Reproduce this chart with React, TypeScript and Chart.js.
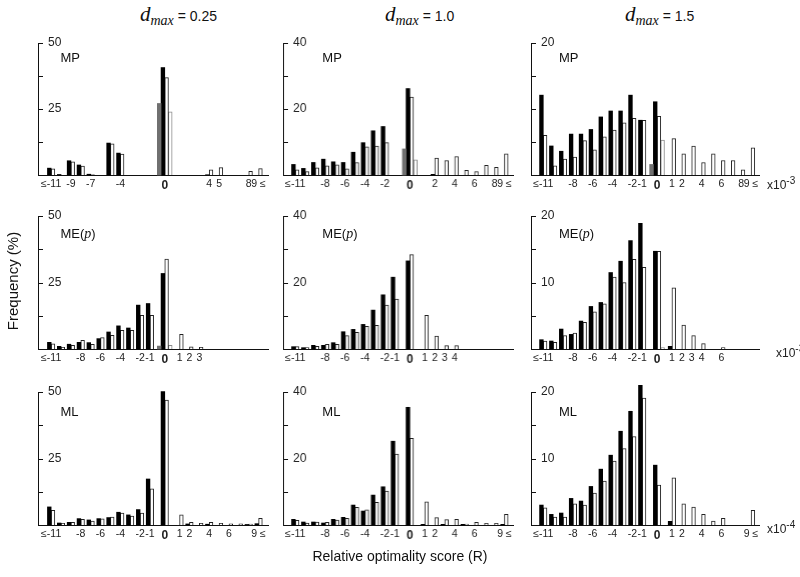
import React, { useEffect, useRef } from 'react';
import { Chart, registerables } from 'chart.js';
Chart.register(...registerables);

const FONT = 'Helvetica, Arial, "Liberation Sans", sans-serif';

// score categories: -11 means "≤-11", 9 means "9 ≤"
const scores = [-11, -10, -9, -8, -7, -6, -5, -4, -3, -2, -1, 0, 1, 2, 3, 4, 5, 6, 7, 8, 9];

// ---- MP ----
const mp025Black = [2.6, 0.2, 5.4, 3.8, 0.3, 0, 12.1, 8.3, 0, 0, 0, 40.7, 0, 0, 0, 0.1, 0, 0, 0, 0, 0];
const mp025White = [2.3, 0, 5.0, 3.4, 0.2, 0, 11.8, 7.9, 0, 0, 0, 36.9, 0, 0, 0, 2.0, 2.8, 0, 0, 1.4, 2.4];
const mp025Zero = [27.1, 23.9]; // grey bar and light bar beside 0
const mp10Black = [3.2, 2.0, 3.8, 4.8, 4.0, 3.8, 6.9, 9.8, 13.4, 14.7, 0, 26.2, 0, 0.2, 0, 0, 0, 0, 0, 0, 0];
const mp10White = [1.6, 1.0, 2.2, 2.8, 3.1, 1.9, 3.8, 8.5, 8.8, 9.8, 0, 23.6, 0, 5.1, 4.4, 5.6, 1.4, 1.0, 2.9, 2.3, 6.4];
const mp10Zero = [7.9, 4.6];
const mp15Black = [12.1, 4.4, 3.6, 6.2, 6.2, 6.9, 8.8, 9.7, 9.7, 12.1, 8.3, 11.1, 0, 0, 0, 0, 0, 0, 0, 0, 0];
const mp15White = [6.0, 1.4, 2.4, 2.7, 5.2, 3.8, 5.8, 6.8, 7.9, 8.6, 8.3, 8.9, 5.5, 3.2, 4.4, 1.9, 3.2, 2.2, 2.2, 0.8, 4.1];
const mp15Zero = [1.6, 5.3];

// ---- ME(p) ----
const me025Black = [2.5, 1.0, 1.8, 2.5, 2.4, 3.9, 6.4, 8.7, 7.9, 16.5, 17.1, 28.4, 0, 0, 0, 0, 0, 0, 0, 0, 0];
const me025White = [1.9, 0.6, 1.4, 3.3, 1.8, 4.3, 5.1, 7.0, 7.0, 12.7, 12.7, 33.8, 5.5, 0.8, 0.6, 0, 0, 0, 0, 0, 0];
const me025Zero = [1.1, 1.4];
const me10Black = [0.7, 0.4, 1.1, 1.1, 1.9, 5.2, 5.9, 7.4, 11.7, 16.3, 21.6, 26.5, 0, 0, 0, 0, 0, 0, 0, 0, 0];
const me10White = [0.7, 0.4, 0.8, 1.4, 1.4, 4.0, 5.0, 6.8, 7.1, 13.2, 15.0, 28.4, 10.1, 3.9, 1.0, 1.0, 0, 0, 0, 0, 0];
const me10Zero = [0, 0];
const me15Black = [1.4, 1.2, 3.0, 2.2, 4.2, 6.4, 7.0, 11.5, 13.2, 16.3, 18.9, 14.7, 0.4, 0, 0, 0, 0, 0, 0, 0, 0];
const me15White = [1.2, 1.0, 2.0, 2.4, 4.0, 5.6, 6.8, 10.8, 10.0, 13.5, 12.3, 14.7, 9.2, 3.6, 2.0, 0.8, 0, 0.2, 0, 0, 0];
const me15Zero = [0, 0.2];

// ---- ML ----
const ml025Black = [6.8, 0.75, 1.0, 2.4, 1.9, 2.4, 2.8, 4.8, 3.8, 5.8, 17.3, 50.2, 0, 0.4, 0, 0.3, 0, 0, 0, 0.2, 0.5];
const ml025White = [5.5, 0.6, 1.0, 2.1, 1.5, 2.3, 3.0, 4.5, 3.4, 4.5, 13.6, 47.0, 3.8, 1.0, 0.6, 1.0, 0.6, 0.4, 0.4, 0.3, 2.5];
const ml025Zero = [0, 0];
const ml10Black = [1.7, 0.9, 0.9, 0.6, 1.7, 2.3, 6.0, 4.2, 9.0, 11.5, 25.2, 35.4, 0.2, 0, 0.2, 0, 0.2, 0, 0, 0, 0.2];
const ml10White = [1.4, 0.6, 0.9, 0.8, 1.5, 2.0, 5.3, 4.6, 6.8, 10.2, 21.3, 26.1, 7.0, 2.2, 1.6, 1.7, 0.3, 0.8, 0.5, 0.5, 3.2];
const ml10Zero = [0, 0];
const ml15Black = [3.0, 1.6, 1.8, 4.0, 3.6, 5.8, 8.4, 10.5, 14.1, 17.1, 21.0, 9.0, 0.55, 0, 0, 0, 0, 0, 0, 0, 0];
const ml15White = [2.6, 1.2, 1.2, 3.2, 3.0, 4.8, 6.6, 9.6, 11.5, 13.3, 19.1, 6.0, 7.1, 3.2, 2.7, 1.6, 0.6, 1.0, 0, 0, 2.2];
const ml15Zero = [0, 0];

// tick labels
const ticksMp025 = ['≤-11', '-9', '-7', '-4', '0', '4', '5', '8', '9 ≤'];
const ticksMp10 = ['≤-11', '-8', '-6', '-4', '-2', '0', '2', '4', '6', '8', '9 ≤'];
const ticksMp15 = ['≤-11', '-8', '-6', '-4', '-2', '-1', '0', '1', '2', '4', '6', '8', '9 ≤'];
const ticksMe025 = ['≤-11', '-8', '-6', '-4', '-2', '-1', '0', '1', '2', '3'];
const ticksMe10 = ['≤-11', '-8', '-6', '-4', '-2', '-1', '0', '1', '2', '3', '4'];
const ticksMe15 = ['≤-11', '-8', '-6', '-4', '-2', '-1', '0', '1', '2', '3', '4', '6'];
const ticksMl = ['≤-11', '-8', '-6', '-4', '-2', '-1', '0', '1', '2', '4', '6', '9 ≤'];

const colMax = [50, 40, 20];
const colTitles = ['0.25', '1.0', '1.5'];
const rowNames = ['MP', 'ME', 'ML'];

// layout (pixels)
const colAxisX = [37.5, 283.3, 531];
const colRightX = [268, 513, 759];
const colXMin = [-12.33, -12.23, -12.24];
const colXMax = [10.95, 10.86, 10.8];
const rowTopY = [43, 216, 392];
const rowBaseY = [175, 349, 525];

// position of a score on the axis: 0 is set apart from its neighbours
const pos = (s: number) => (s < 0 ? s : s === 0 ? 0.5 : s + 1);
const labelScore = (l: string) => (l === '≤-11' ? -11 : l === '9 ≤' ? 9 : parseInt(l, 10));

type PanelDef = {
  row: number; col: number;
  black: number[]; white: number[]; zero: number[]; ticks: string[]; midLabel: boolean;
};

const panels: PanelDef[] = [
  { row: 0, col: 0, black: mp025Black, white: mp025White, zero: mp025Zero, ticks: ticksMp025, midLabel: true },
  { row: 0, col: 1, black: mp10Black, white: mp10White, zero: mp10Zero, ticks: ticksMp10, midLabel: true },
  { row: 0, col: 2, black: mp15Black, white: mp15White, zero: mp15Zero, ticks: ticksMp15, midLabel: false },
  { row: 1, col: 0, black: me025Black, white: me025White, zero: me025Zero, ticks: ticksMe025, midLabel: true },
  { row: 1, col: 1, black: me10Black, white: me10White, zero: me10Zero, ticks: ticksMe10, midLabel: true },
  { row: 1, col: 2, black: me15Black, white: me15White, zero: me15Zero, ticks: ticksMe15, midLabel: true },
  { row: 2, col: 0, black: ml025Black, white: ml025White, zero: ml025Zero, ticks: ticksMl, midLabel: true },
  { row: 2, col: 1, black: ml10Black, white: ml10White, zero: ml10Zero, ticks: ticksMl, midLabel: true },
  { row: 2, col: 2, black: ml15Black, white: ml15White, zero: ml15Zero, ticks: ticksMl, midLabel: true },
];

const PAD_L = 10, PAD_T = 18, PAD_R = 10, PAD_B = 2, XAXIS_H = 22;

const inwardTicks = {
  id: 'inwardTicks',
  afterDraw(chart: any) {
    const ys = chart.scales.y;
    const ctx = chart.ctx;
    const left = chart.chartArea.left;
    ctx.save();
    ctx.strokeStyle = '#111';
    ctx.lineWidth = 1;
    ys.ticks.forEach((t: any) => {
      if (t.value === 0) return;
      const py = Math.round(ys.getPixelForValue(t.value)) + 0.5;
      ctx.beginPath();
      ctx.moveTo(left, py);
      ctx.lineTo(left + 5, py);
      ctx.stroke();
    });
    ctx.restore();
  },
};

function Panel({ def }: { def: PanelDef }) {
  const ref = useRef<HTMLCanvasElement>(null);
  const { row, col } = def;
  const left = colAxisX[col] - PAD_L;
  const top = rowTopY[row] - PAD_T;
  const width = colRightX[col] - colAxisX[col] + PAD_L + PAD_R;
  const height = rowBaseY[row] - rowTopY[row] + PAD_T + PAD_B + XAXIS_H;

  useEffect(() => {
    const max = colMax[col];
    const pts = (arr: number[]) =>
      scores.map((s, i) => ({ x: pos(s), y: arr[i] > 0 ? arr[i] : null }));
    const zeroPt = (v: number) => [{ x: pos(0), y: v > 0 ? v : null }];
    const common = { barThickness: 3.7, clip: false as any, borderSkipped: 'bottom' as any };
    const chart = new Chart(ref.current as HTMLCanvasElement, {
      type: 'bar',
      data: {
        datasets: [
          { ...common, label: 'grey', data: zeroPt(def.zero[0]) as any, backgroundColor: '#707070', borderWidth: 0 },
          { ...common, label: 'black', data: pts(def.black) as any, backgroundColor: '#000', borderWidth: 0 },
          { ...common, label: 'white', data: pts(def.white) as any, backgroundColor: '#fff', borderColor: '#222', borderWidth: 1 },
          { ...common, label: 'light', data: zeroPt(def.zero[1]) as any, backgroundColor: '#fff', borderColor: '#8a8a8a', borderWidth: 1 },
        ],
      },
      options: {
        animation: false,
        responsive: false,
        events: [],
        layout: { padding: { left: PAD_L, top: PAD_T, right: PAD_R, bottom: PAD_B } },
        plugins: { legend: { display: false }, tooltip: { enabled: false }, title: { display: false } },
        scales: {
          x: {
            type: 'linear',
            min: colXMin[col],
            max: colXMax[col],
            offset: false,
            grid: { display: false, drawTicks: false, offset: false },
            border: { display: true, color: '#111', width: 1 },
            afterBuildTicks: (scale: any) => {
              scale.ticks = def.ticks.map((l) => ({ value: pos(labelScore(l)) }));
            },
            afterFit: (scale: any) => { scale.height = XAXIS_H; },
            ticks: {
              autoSkip: false,
              maxRotation: 0,
              minRotation: 0,
              padding: 3,
              color: '#222',
              callback: (_v: any, i: number) => def.ticks[i],
              font: (ctx: any) => ({
                family: FONT,
                size: ctx.tick && ctx.tick.label === '0' ? 12 : 10.5,
                weight: ctx.tick && ctx.tick.label === '0' ? 'bold' : 'normal',
              }),
            },
          },
          y: {
            type: 'linear',
            min: 0,
            max,
            grid: { display: false, drawTicks: false },
            border: { display: true, color: '#111', width: 1 },
            afterFit: (scale: any) => { scale.width = 0; },
            ticks: {
              stepSize: max / 4,
              mirror: true,
              padding: 10,
              color: '#222',
              font: { family: FONT, size: 12 },
              callback: (v: any) =>
                v === max || (def.midLabel && v === max / 2) ? String(v) : '',
            },
          },
        },
      },
      plugins: [inwardTicks],
    });
    return () => chart.destroy();
  }, []);

  const nameLeft = [23, 39, 28][col];
  const nameTop = [7, 10, 12][row];
  return (
    <>
      <canvas
        ref={ref}
        width={width}
        height={height}
        style={{ position: 'absolute', left, top, width, height }}
      />
      <div
        style={{
          position: 'absolute',
          left: colAxisX[col] + nameLeft,
          top: rowTopY[row] + nameTop,
          fontFamily: FONT,
          fontSize: 13,
          lineHeight: '15px',
          color: '#111',
          whiteSpace: 'nowrap',
        }}
      >
        {rowNames[row] === 'ME' ? (
          <span>ME(<i style={{ fontFamily: '"Liberation Serif", serif', fontSize: 14 }}>p</i>)</span>
        ) : (
          rowNames[row]
        )}
      </div>
    </>
  );
}

const expLabels = [
  { row: 0, exp: '-3', left: 767, top: 175 },
  { row: 1, exp: '-3', left: 776, top: 343 },
  { row: 2, exp: '-4', left: 767, top: 519 },
];
const titleLeft = [140, 385, 625];

export default function App() {
  return (
    <div style={{ position: 'absolute', left: 0, top: 0, width: 800, height: 577, background: '#fff', overflow: 'hidden' }}>
      {colTitles.map((t, i) => (
        <div
          key={'t' + i}
          style={{ position: 'absolute', left: titleLeft[i], top: 2, whiteSpace: 'nowrap', color: '#111' }}
        >
          <span style={{ fontFamily: '"Liberation Serif", "DejaVu Serif", serif', fontStyle: 'italic', fontSize: 21 }}>d</span>
          <span style={{ fontFamily: '"Liberation Serif", "DejaVu Serif", serif', fontStyle: 'italic', fontSize: 14, position: 'relative', top: 4 }}>max</span>
          <span style={{ fontFamily: FONT, fontSize: 14 }}> = {t}</span>
        </div>
      ))}
      {panels.map((p, i) => (
        <Panel key={i} def={p} />
      ))}
      {expLabels.map((e, i) => (
        <div key={'e' + i} style={{ position: 'absolute', left: e.left, top: e.top, fontFamily: FONT, fontSize: 12, color: '#222', whiteSpace: 'nowrap' }}>
          x10<sup style={{ fontSize: 10 }}>{e.exp}</sup>
        </div>
      ))}
      <div
        style={{
          position: 'absolute',
          left: 12,
          top: 281,
          transform: 'translate(-50%, -50%) rotate(-90deg)',
          fontFamily: FONT,
          fontSize: 15,
          whiteSpace: 'nowrap',
          color: '#111',
        }}
      >
        Frequency (%)
      </div>
      <div
        style={{
          position: 'absolute',
          left: 400,
          top: 556,
          transform: 'translate(-50%, -50%)',
          fontFamily: FONT,
          fontSize: 14,
          whiteSpace: 'nowrap',
          color: '#111',
        }}
      >
        Relative optimality score (R)
      </div>
    </div>
  );
}
